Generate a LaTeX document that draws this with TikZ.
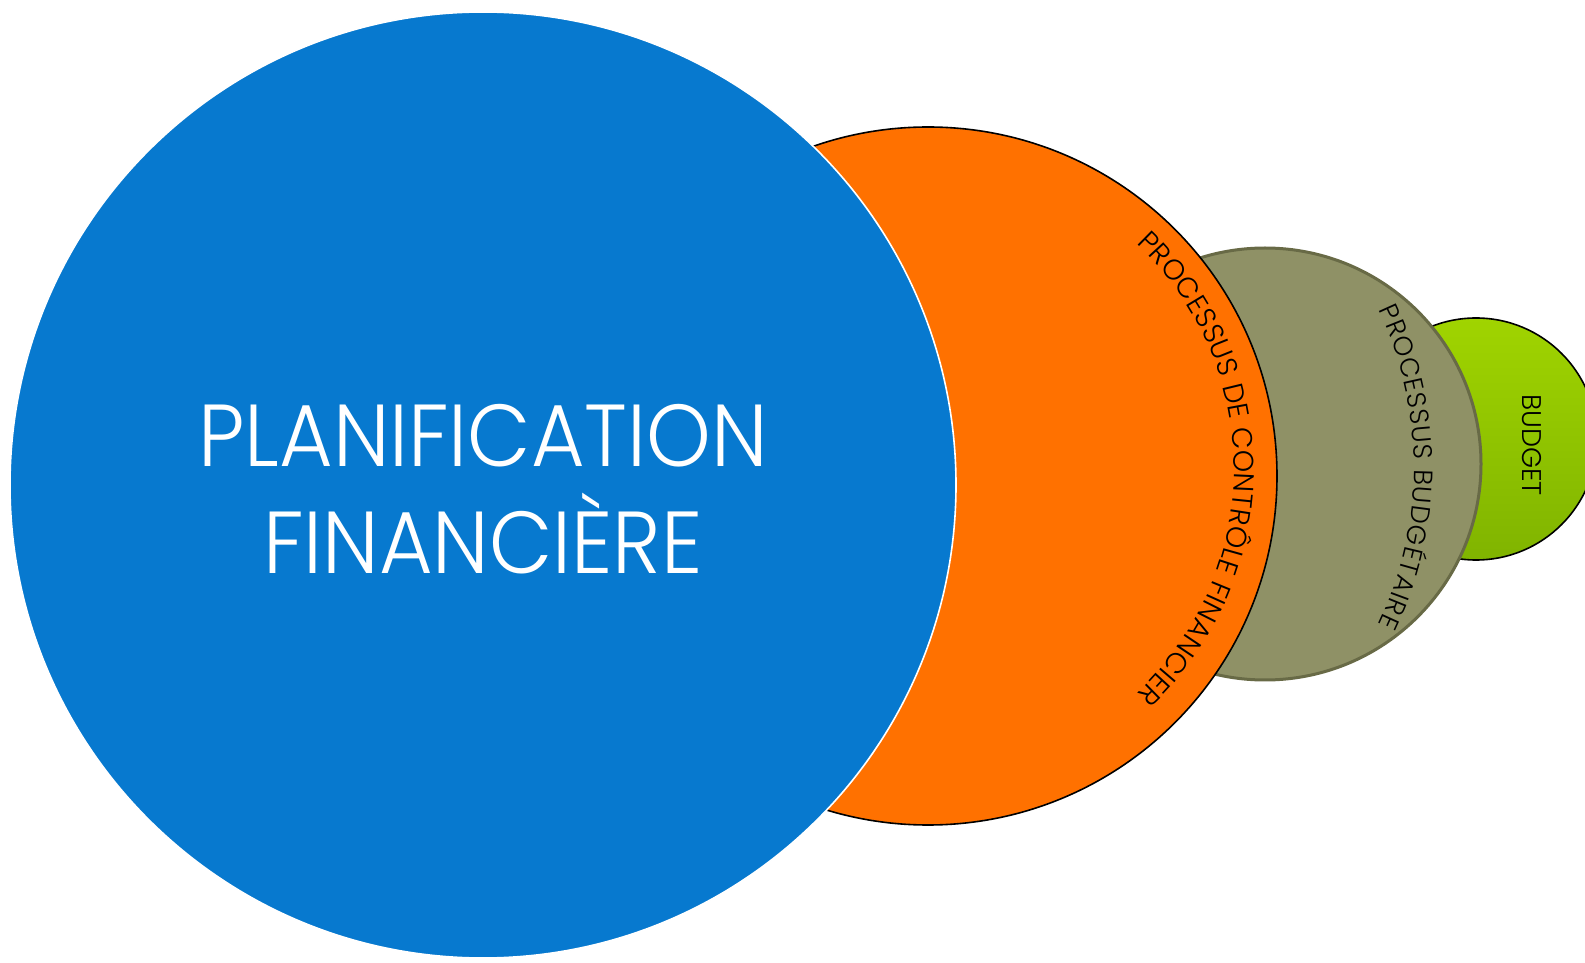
\documentclass[tikz,border=0pt]{standalone}
\usepackage{fontspec}
\setmainfont{Poppins}[UprightFont=* Light]
\usetikzlibrary{decorations.text}
\definecolor{cblue}{RGB}{7,121,207}
\definecolor{corange}{RGB}{255,113,0}
\definecolor{colive}{RGB}{143,145,102}
\definecolor{coliveb}{RGB}{104,106,70}
\definecolor{cgtop}{RGB}{160,212,0}
\definecolor{cgbot}{RGB}{128,180,0}
\tikzset{
  disc/.style={circle, inner sep=0pt, outer sep=0pt},
  arclabel/.style={decorate, decoration={text along path, text align={fit to path}, text={#1}}}
}
\begin{document}
\begin{tikzpicture}[x=1pt,y=1pt]
\useasboundingbox (0,0) rectangle (1585,962);
\node[disc, minimum size=242, top color=cgtop, bottom color=cgbot, draw=black, line width=1.6] (budget) at (1476,523) {};
\node[disc, minimum size=432, fill=colive, draw=coliveb, line width=3] (pb) at (1265,498) {};
\node[disc, minimum size=698, fill=corange, draw=black, line width=1.6] (pcf) at (928,486) {};
\node[disc, minimum size=946, fill=cblue, draw=white, line width=1.6] (pf) at (483,477) {};
\coordinate (ocen) at (926,493.5);
\coordinate (gcen) at (1049,495);
\path[arclabel={|\fontsize{28.5}{28.5}\selectfont|PROCESSUS DE CONTRÔLE FINANCIER}]
  (ocen) ++(47:308) arc[start angle=47, end angle=-47, radius=308];
\path[arclabel={|\fontsize{26.5}{26.5}\selectfont|PROCESSUS BUDGÉTAIRE}]
  (gcen) ++(25.5:365) arc[start angle=25.5, end angle=-25.5, radius=365];
\node[rotate=-90, inner sep=0pt, font=\fontsize{27}{27}\selectfont] (bt) at (1532,517) {BUDGET};
\node[align=center, text=white, inner sep=0pt, xscale=0.935, font=\fontsize{88}{107}\selectfont] (title) at (483,473) {PLANIFICATION\\FINANCIÈRE};
\end{tikzpicture}
\end{document}
